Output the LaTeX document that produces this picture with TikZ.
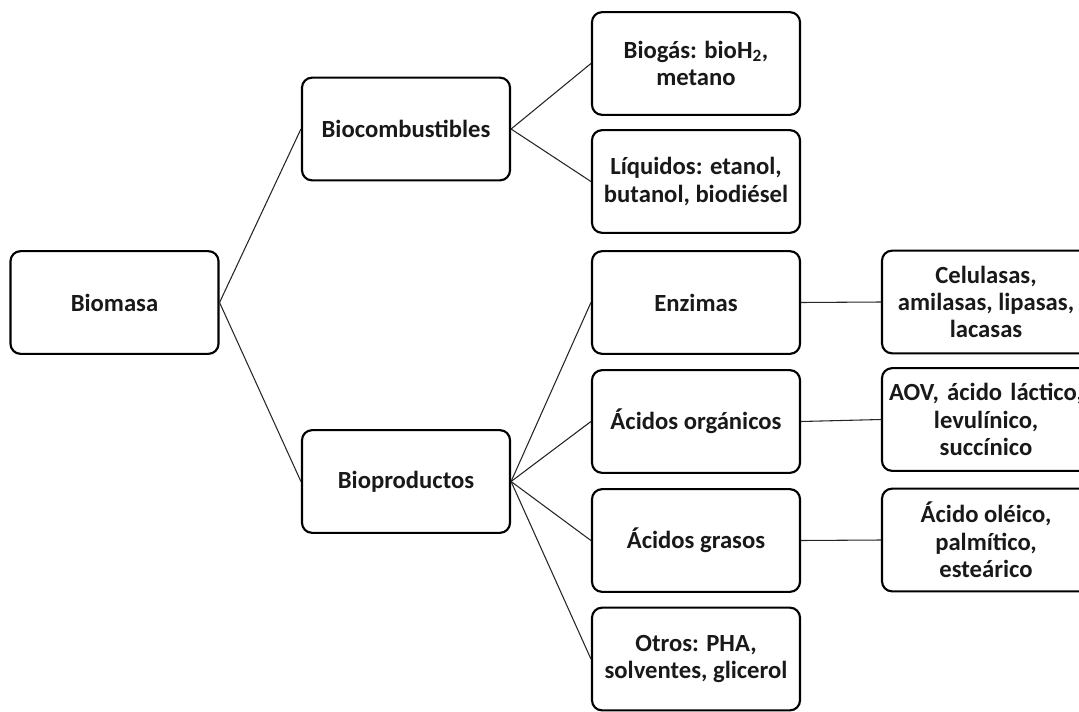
\documentclass[tikz,border=0pt]{standalone}
\usepackage{fontspec}
\setmainfont{Carlito}
\begin{document}
\begin{tikzpicture}[x=0.75pt,y=-0.75pt,
  box/.style={draw=black, line width=1.6pt, rounded corners=7.5pt,
    minimum width=156pt, minimum height=77pt, align=center, inner sep=0pt,
    font=\bfseries\fontsize{18.5}{20.5}\selectfont, text=black!90},
  link/.style={draw=black!85, line width=0.8pt}]
\useasboundingbox (0,0) rectangle (1079,711);
\clip (0,0) rectangle (1079,711);

% root
\node[box] (bm) at (114.5,302.5) {Biomasa};

% first level
\node[box] (bc) at (406,129) {Biocombustibles};
\node[box] (bp) at (406,481.5) {Bioproductos};

% second level
\node[box] (bg) at (696,63.5) {Biogás: bioH\textsubscript{2},\\metano};
\node[box] (lq) at (696,181.5) {Líquidos: etanol,\\butanol, biodiésel};
\node[box] (ez) at (696,302.5) {Enzimas};
\node[box] (ao) at (696,421.5) {Ácidos orgánicos};
\node[box] (ag) at (696,540.5) {Ácidos grasos};
\node[box] (ot) at (696,659) {Otros: PHA,\\solventes, glicerol};

% third level
\node[box] (ce) at (986,302) {Celulasas,\\amilasas, lipasas,\\lacasas};
\node[box, text width=150pt] (av) at (986,419.5) {\makebox[150pt][c]{AOV, ácido láctico,}\\levulínico,\\succínico};
\node[box] (ol) at (986,540) {Ácido oléico,\\palmítico,\\esteárico};

% connectors
\draw[link] (bm.east) -- (bc.west);
\draw[link] (bm.east) -- (bp.west);
\draw[link] (bc.east) -- (bg.west);
\draw[link] (bc.east) -- (lq.west);
\draw[link] (bp.east) -- (ez.west);
\draw[link] (bp.east) -- (ao.west);
\draw[link] (bp.east) -- (ag.west);
\draw[link] (bp.east) -- (ot.west);
\draw[link] (ez.east) -- (ce.west);
\draw[link] (ao.east) -- (av.west);
\draw[link] (ag.east) -- (ol.west);
\end{tikzpicture}
\end{document}
